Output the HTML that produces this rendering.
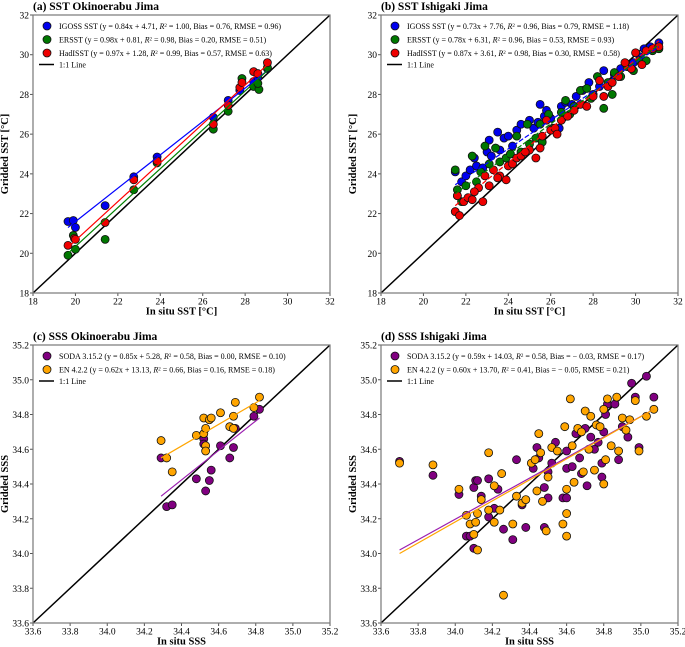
<!DOCTYPE html>
<html><head><meta charset="utf-8"><style>
body{margin:0;background:#fff;}
svg{display:block;font-family:"Liberation Serif",serif;}
</style></head><body>
<svg id="chart" width="685" height="647" xmlns="http://www.w3.org/2000/svg"></svg>
<script>
// ---- Panel (a) data ----
const aIgoss=[[19.65,21.6],[19.9,21.65],[20,21.3],[21.4,22.4],[22.75,23.85],[23.85,24.85],[26.5,26.85],[27.2,27.7],[27.75,28.2],[28.4,28.65],[28.6,28.85],[29.05,29.3]];
const aErsst=[[19.65,19.9],[19.9,20.9],[20,20.2],[21.4,20.7],[22.75,23.2],[23.85,24.55],[26.5,26.25],[27.2,27.15],[27.85,28.8],[28.4,28.4],[28.65,28.25],[28.6,28.55],[29.05,29.35]];
const aHad=[[19.65,20.4],[19.95,20.75],[20,20.7],[21.4,21.55],[22.75,23.7],[23.85,24.65],[26.5,26.5],[27.2,27.45],[27.75,28.35],[27.85,28.6],[28.4,29.15],[28.6,29.05],[29.05,29.6]];
const aFitIgoss=[[19.65,21.3],[29.05,29.2]];
const aFitErsst=[[19.65,20.0],[29.05,29.2]];
const aFitHad=[[19.65,20.3],[29.05,29.5]];
// ---- Panel (b) data ----
const bIgoss=[[21.5,24.1],[21.6,22.9],[21.8,23.6],[22.0,23.9],[22.2,24.2],[22.4,24.8],[22.5,24.4],[22.8,24.3],[23.0,25.1],[23.1,25.7],[23.2,24.9],[23.5,26.1],[23.6,25.2],[23.8,25.8],[24.0,25.9],[24.2,25.4],[24.4,26.2],[24.6,26.5],[25.0,26.7],[25.2,26.3],[25.4,26.6],[25.5,27.5],[25.7,26.9],[25.8,27.2],[26.0,26.8],[26.4,26.3],[26.5,27.4],[26.7,27.6],[27.0,27.5],[27.2,27.9],[27.5,28.2],[27.8,28.6],[28.0,28.0],[28.3,28.4],[28.5,29.2],[28.8,28.6],[29.0,29.0],[29.3,29.3],[29.6,29.5],[29.9,29.6],[30.2,29.9],[30.4,30.3],[30.7,30.4],[31.1,30.6]];
const bErsst=[[21.5,24.2],[21.6,23.2],[21.8,22.6],[22.0,23.4],[22.3,24.9],[22.5,23.6],[22.7,24.1],[22.9,25.4],[23.1,24.5],[23.4,25.3],[23.6,24.6],[23.9,24.8],[24.1,25.0],[24.4,25.9],[24.6,25.1],[24.9,26.5],[25.0,25.5],[25.3,25.8],[25.5,26.5],[25.6,25.6],[25.9,27.0],[26.1,26.3],[26.5,27.1],[26.7,27.7],[26.9,27.0],[27.1,27.4],[27.4,28.2],[27.7,28.3],[27.9,27.8],[28.2,28.9],[28.5,27.3],[28.9,28.0],[28.7,28.6],[29.0,29.1],[29.3,28.9],[29.6,29.4],[29.9,29.2],[30.2,29.7],[30.5,29.7],[30.8,30.2],[31.1,30.3]];
const bHad=[[21.5,22.1],[21.6,22.9],[21.7,21.9],[21.9,22.6],[22.1,22.8],[22.3,22.7],[22.6,23.3],[22.8,22.6],[22.9,23.9],[23.1,23.4],[23.3,24.2],[23.6,23.9],[23.9,23.7],[24.0,24.4],[24.2,24.5],[24.4,24.8],[24.6,24.9],[25.0,25.2],[25.3,24.8],[25.5,25.3],[25.6,25.9],[25.8,26.7],[26.0,26.2],[26.2,26.3],[26.5,26.7],[26.8,26.9],[27.1,27.2],[27.4,27.5],[27.7,27.4],[28.0,27.9],[28.3,28.7],[28.5,27.9],[28.7,28.4],[28.9,28.6],[29.2,28.9],[29.5,29.6],[29.8,29.3],[30.0,30.1],[30.3,29.5],[30.5,30.2],[30.8,30.3],[31.1,30.4],[26.3,26.0],[24.8,25.1],[23.5,23.8],[22.4,23.1]];
const bFitIgoss=[[21.5,23.45],[31.1,30.4]];
const bFitErsst=[[21.5,23.0],[31.1,30.5]];
const bFitHad=[[21.5,22.4],[31.1,30.7]];
// ---- Panel (c) data ----
const cSoda=[[34.29,34.55],[34.32,34.27],[34.35,34.28],[34.48,34.43],[34.52,34.66],[34.52,34.63],[34.53,34.36],[34.55,34.42],[34.56,34.48],[34.61,34.62],[34.66,34.55],[34.68,34.61],[34.69,34.72],[34.79,34.79],[34.82,34.83]];
const cEn=[[34.29,34.65],[34.32,34.55],[34.35,34.47],[34.48,34.68],[34.52,34.78],[34.52,34.69],[34.53,34.72],[34.53,34.62],[34.53,34.59],[34.55,34.77],[34.56,34.78],[34.61,34.81],[34.66,34.73],[34.68,34.72],[34.68,34.79],[34.69,34.87],[34.79,34.84],[34.82,34.9]];
const cFitSoda=[[34.29,34.33],[34.82,34.78]];
const cFitEn=[[34.29,34.55],[34.82,34.88]];
// ---- Panel (d) data ----
const dSoda=[[33.7,34.53],[33.88,34.45],[34.02,34.34],[34.06,34.1],[34.08,34.1],[34.1,34.03],[34.1,34.38],[34.11,34.42],[34.12,34.42],[34.14,34.33],[34.18,34.43],[34.18,34.21],[34.21,34.26],[34.23,34.37],[34.26,34.14],[34.31,34.08],[34.33,34.54],[34.38,34.15],[34.36,34.28],[34.42,34.49],[34.44,34.61],[34.45,34.55],[34.48,34.38],[34.48,34.15],[34.5,34.32],[34.52,34.52],[34.54,34.64],[34.58,34.32],[34.6,34.32],[34.6,34.49],[34.63,34.5],[34.65,34.69],[34.67,34.55],[34.68,34.46],[34.7,34.72],[34.71,34.39],[34.73,34.67],[34.75,34.6],[34.77,34.64],[34.79,34.44],[34.79,34.52],[34.8,34.7],[34.81,34.8],[34.82,34.86],[34.86,34.86],[34.88,34.54],[34.9,34.73],[34.93,34.67],[34.95,34.98],[34.97,34.9],[34.99,34.61],[35.03,35.02],[35.07,34.9],[34.6,34.59],[34.5,34.47]];
const dEn=[[33.7,34.52],[33.88,34.51],[34.02,34.37],[34.06,34.22],[34.08,34.17],[34.1,34.11],[34.11,34.18],[34.12,34.23],[34.12,34.02],[34.14,34.31],[34.18,34.58],[34.18,34.25],[34.21,34.18],[34.21,34.39],[34.24,34.25],[34.25,34.46],[34.26,33.76],[34.31,34.17],[34.33,34.33],[34.36,34.29],[34.38,34.31],[34.41,34.52],[34.43,34.54],[34.44,34.36],[34.45,34.69],[34.46,34.58],[34.47,34.3],[34.49,34.13],[34.5,34.44],[34.52,34.61],[34.55,34.59],[34.58,34.17],[34.59,34.73],[34.6,34.1],[34.6,34.23],[34.6,34.37],[34.62,34.89],[34.63,34.62],[34.64,34.41],[34.66,34.72],[34.68,34.7],[34.69,34.47],[34.7,34.82],[34.72,34.6],[34.73,34.79],[34.75,34.48],[34.76,34.74],[34.78,34.73],[34.8,34.4],[34.8,34.83],[34.81,34.54],[34.82,34.89],[34.84,34.62],[34.87,34.9],[34.88,34.59],[34.9,34.78],[34.92,34.71],[34.94,34.77],[34.97,34.88],[34.99,34.59],[35.03,34.79],[35.07,34.83]];
const dFitSoda=[[33.7,34.02],[35.07,34.83]];
const dFitEn=[[33.7,34.0],[35.07,34.83]];
const sstTicks=[18,20,22,24,26,28,30,32];
const sssTicks=[33.6,33.8,34.0,34.2,34.4,34.6,34.8,35.0,35.2];

const NS="http://www.w3.org/2000/svg";
const svg=document.getElementById('chart');
function mk(tag,attrs,parent){const e=document.createElementNS(NS,tag);for(const k in attrs)e.setAttribute(k,attrs[k]);(parent||svg).appendChild(e);return e;}

function panel(cfg){
  const g=mk('g',{});
  
  
  const L=cfg.l,R=cfg.r,T=cfg.t,B=cfg.b,lo=cfg.ticks[0],hi=cfg.ticks[cfg.ticks.length-1];
  const sx=v=>L+(v-lo)/(hi-lo)*(R-L), sy=v=>B-(v-lo)/(hi-lo)*(B-T);
  const title=mk('text',{x:L,y:T-5,'font-size':11.5,'font-weight':'bold'},g);title.textContent=cfg.title;
  
  
  cfg.ticks.forEach(t=>{
    mk('line',{x1:sx(t),x2:sx(t),y1:B,y2:B+3,stroke:'#555'},g);
    mk('line',{x1:L-3,x2:L,y1:sy(t),y2:sy(t),stroke:'#555'},g);
    const lab=cfg.dec?t.toFixed(1):t;
    const tx=mk('text',{x:sx(t),y:B+11.5,'font-size':9.5,'text-anchor':'middle'},g);tx.textContent=lab;
    
    
    const ty=mk('text',{x:L-4,y:sy(t)+3.5,'font-size':9.5,'text-anchor':'end'},g);ty.textContent=lab;
    
    
  });
  const xt=mk('text',{x:(L+R)/2,y:B+21.5,'font-size':10.5,'font-weight':'bold','text-anchor':'middle'},g);xt.textContent=cfg.xtitle;
  
  
  const yx=L-25,yy=(T+B)/2;
  const yt=mk('text',{x:yx,y:yy,'font-size':10.5,'font-weight':'bold','text-anchor':'middle',transform:`rotate(-90 ${yx} ${yy})`},g);yt.textContent=cfg.ytitle;
  
  
  const one=mk('line',{x1:sx(lo),y1:sy(lo),x2:sx(hi),y2:sy(hi),stroke:'#000','stroke-width':1.5},g);
  
  
  cfg.series.forEach(s=>{
    s.data.forEach(p=>{
      const c=mk('circle',{cx:sx(p[0]),cy:sy(p[1]),r:4,fill:s.color,stroke:'#111','stroke-width':0.8},g);
      
      
    });
  });
  cfg.series.forEach(s=>{
    const f=s.fit;
    const ln=mk('line',{x1:sx(f[0][0]),y1:sy(f[0][1]),x2:sx(f[1][0]),y2:sy(f[1][1]),stroke:s.line,'stroke-width':1.2},g);
    if(cfg.dash)ln.setAttribute('stroke-dasharray','5,2');
    
    
  });
  mk('rect',{x:L,y:T,width:R-L,height:B-T,fill:'none',stroke:'#777','stroke-width':1.2},g);
  cfg.series.forEach((s,i)=>{
    const ly=T+11+i*13.5;
    const lg=mk('g',{},g);
    
    
    mk('circle',{cx:L+14,cy:ly,r:4,fill:s.color,stroke:'#111','stroke-width':0.8},lg);
    const t=mk('text',{x:L+26,y:ly+3,'font-size':8},lg);t.innerHTML=s.label;
  });
  const ly=T+11+cfg.series.length*13.5-2;
  const lg=mk('g',{},g);
  
  
  mk('line',{x1:L+6,x2:L+21,y1:ly,y2:ly,stroke:'#000','stroke-width':1.5},lg);
  const t=mk('text',{x:L+26,y:ly+3,'font-size':8},lg);t.textContent='1:1 Line';
}
const R2='<tspan font-style="italic">R</tspan><tspan baseline-shift="super" font-size="5">2</tspan>';
panel({name:'panel-a-sst-okinoerabu',title:'(a) SST Okinoerabu Jima',l:33,r:330,t:15,b:293,ticks:sstTicks,dec:false,xtitle:'In situ SST [°C]',ytitle:'Gridded SST [°C]',series:[
 {key:'igoss',data:aIgoss,fit:aFitIgoss,color:'#0000ee',line:'#0000ff',label:'IGOSS SST (y = 0.84x + 4.71, '+R2+' = 1.00, Bias = 0.76, RMSE = 0.96)'},
 {key:'ersst',data:aErsst,fit:aFitErsst,color:'#007700',line:'#008000',label:'ERSST (y = 0.98x + 0.81, '+R2+' = 0.98, Bias = 0.20, RMSE = 0.51)'},
 {key:'hadisst',data:aHad,fit:aFitHad,color:'#ee0000',line:'#ff0000',label:'HadISST (y = 0.97x + 1.28, '+R2+' = 0.99, Bias = 0.57, RMSE = 0.63)'}]});
panel({name:'panel-b-sst-ishigaki',title:'(b) SST Ishigaki Jima',l:381,r:678,t:15,b:293,ticks:sstTicks,dec:false,dash:true,xtitle:'In situ SST [°C]',ytitle:'Gridded SST [°C]',series:[
 {key:'igoss',data:bIgoss,fit:bFitIgoss,color:'#0000ee',line:'#0000ff',label:'IGOSS SST (y = 0.73x + 7.76, '+R2+' = 0.96, Bias = 0.79, RMSE = 1.18)'},
 {key:'ersst',data:bErsst,fit:bFitErsst,color:'#007700',line:'#008000',label:'ERSST (y = 0.78x + 6.31, '+R2+' = 0.96, Bias = 0.53, RMSE = 0.93)'},
 {key:'hadisst',data:bHad,fit:bFitHad,color:'#ee0000',line:'#ff0000',label:'HadISST (y = 0.87x + 3.61, '+R2+' = 0.98, Bias = 0.30, RMSE = 0.58)'}]});
panel({name:'panel-c-sss-okinoerabu',title:'(c) SSS Okinoerabu Jima',l:33,r:330,t:345,b:623,ticks:sssTicks,dec:true,xtitle:'In situ SSS',ytitle:'Gridded SSS',series:[
 {key:'soda',data:cSoda,fit:cFitSoda,color:'#800080',line:'#9b1fb0',label:'SODA 3.15.2 (y = 0.85x + 5.28, '+R2+' = 0.58, Bias = 0.00, RMSE = 0.10)'},
 {key:'en',data:cEn,fit:cFitEn,color:'#ffa500',line:'#ffa500',label:'EN 4.2.2 (y = 0.62x + 13.13, '+R2+' = 0.66, Bias = 0.16, RMSE = 0.18)'}]});
panel({name:'panel-d-sss-ishigaki',title:'(d) SSS Ishigaki Jima',l:381,r:678,t:345,b:623,ticks:sssTicks,dec:true,xtitle:'In situ SSS',ytitle:'Gridded SSS',series:[
 {key:'soda',data:dSoda,fit:dFitSoda,color:'#800080',line:'#9b1fb0',label:'SODA 3.15.2 (y = 0.59x + 14.03, '+R2+' = 0.58, Bias = − 0.03, RMSE = 0.17)'},
 {key:'en',data:dEn,fit:dFitEn,color:'#ffa500',line:'#ffa500',label:'EN 4.2.2 (y = 0.60x + 13.70, '+R2+' = 0.41, Bias = − 0.05, RMSE = 0.21)'}]});
</script>
</body></html>
